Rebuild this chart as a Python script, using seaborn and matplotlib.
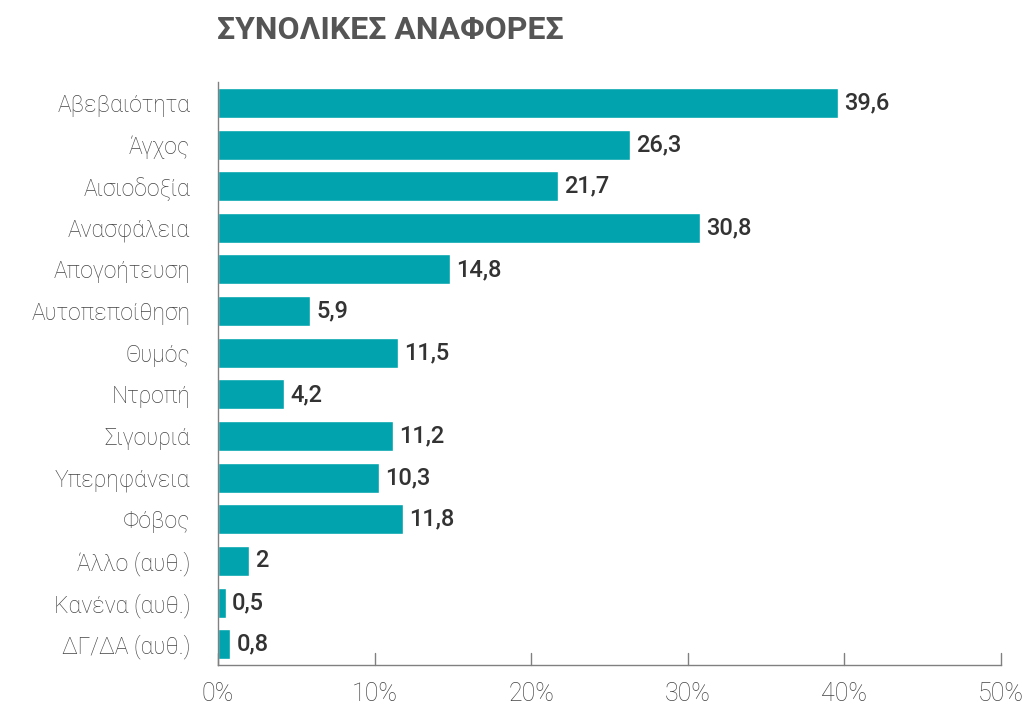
import matplotlib
matplotlib.use("Agg")
import matplotlib.pyplot as plt
import seaborn as sns
import pandas as pd
from matplotlib.ticker import FuncFormatter

categories = ["Αβεβαιότητα", "Άγχος", "Αισιοδοξία", "Ανασφάλεια", "Απογοήτευση",
              "Αυτοπεποίθηση", "Θυμός", "Ντροπή", "Σιγουριά", "Υπερηφάνεια",
              "Φόβος", "Άλλο (αυθ.)", "Κανένα (αυθ.)", "ΔΓ/ΔΑ (αυθ.)"]
values = [39.6, 26.3, 21.7, 30.8, 14.8, 5.9, 11.5, 4.2, 11.2, 10.3, 11.8, 2, 0.5, 0.8]
value_labels = ["39,6", "26,3", "21,7", "30,8", "14,8", "5,9", "11,5", "4,2",
                "11,2", "10,3", "11,8", "2", "0,5", "0,8"]
x_ticks = [0, 10, 20, 30, 40, 50]

df = pd.DataFrame({"category": categories, "value": values})

sns.set_style("white")
plt.rcParams["font.family"] = ["Roboto", "DejaVu Sans"]

fig = plt.figure(figsize=(10.31, 7.08), dpi=100)
ax = fig.add_axes([0.2114, 0.0607, 0.7595, 0.8233])

sns.barplot(data=df, x="value", y="category", color="#00A3AE", saturation=1,
            width=0.72, ax=ax)

for i, (v, lab) in enumerate(zip(values, value_labels)):
    ax.text(v + 0.4, i, lab, va="center", ha="left", fontsize=17,
            fontweight="medium", color="#333333")

ax.set_xlim(0, 50)
ax.set_ylim(len(categories) - 0.5, -0.5)
ax.set_xticks(x_ticks)
ax.xaxis.set_major_formatter(FuncFormatter(lambda x, p: f"{x:.0f}%"))
ax.set_xlabel("")
ax.set_ylabel("")

for s in ["top", "right"]:
    ax.spines[s].set_visible(False)
for s in ["left", "bottom"]:
    ax.spines[s].set_color("#808080")
    ax.spines[s].set_linewidth(1)

ax.tick_params(axis="x", length=0, labelsize=18, labelcolor="#444444", pad=12)
for lbl in ax.get_xticklabels():
    lbl.set_fontweight("light")
ax.tick_params(axis="y", length=0, labelsize=16.5, labelcolor="#444444", pad=20)
for lbl in ax.get_yticklabels():
    lbl.set_fontweight("light")
# upward tick marks on the bottom axis
for t in x_ticks:
    ax.plot([t, t], [len(categories) - 0.5, len(categories) - 0.5 - 0.3],
            color="#808080", lw=1, clip_on=False)

fig.text(0.21, 0.958, "ΣΥΝΟΛΙΚΕΣ ΑΝΑΦΟΡΕΣ", fontsize=23, fontweight="bold",
         color="#555555", ha="left", va="center")

fig.savefig("out.png", dpi=100)
